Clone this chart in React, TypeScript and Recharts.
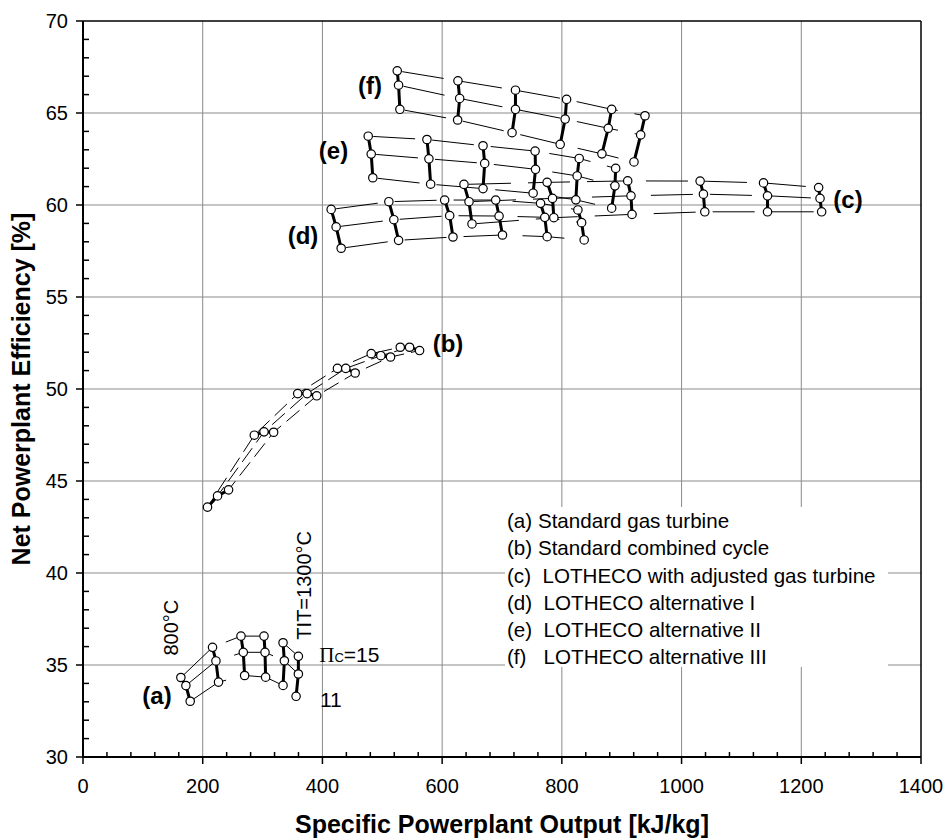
import React from 'react';
import { ScatterChart, Scatter, XAxis, YAxis, CartesianGrid, ReferenceLine } from 'recharts';

type Pt = [number, number];

// each inner array is one turbine inlet temperature (thick line), points ordered by pressure ratio
const SERIES_A: Pt[][] = [
  [[163.5, 34.32], [171.9, 33.88], [179.1, 33.03]],
  [[216.4, 35.96], [222.1, 35.22], [226.4, 34.07]],
  [[263.9, 36.57], [267.8, 35.69], [270.0, 34.43]],
  [[302.4, 36.57], [304.1, 35.69], [305.1, 34.34]],
  [[334.2, 36.21], [336.4, 35.23], [334.2, 33.89]],
  [[359.8, 35.47], [359.8, 34.51], [356.0, 33.30]],
];

const SERIES_B: Pt[][] = [
  [[208.0, 43.58], [224.8, 44.19], [243.2, 44.52]],
  [[286.2, 47.49], [302.4, 47.67], [318.5, 47.65]],
  [[358.7, 49.75], [374.4, 49.75], [390.5, 49.63]],
  [[425.1, 51.12], [439.0, 51.12], [454.7, 50.87]],
  [[481.5, 51.92], [497.6, 51.81], [513.8, 51.74]],
  [[530.0, 52.27], [545.6, 52.27], [562.3, 52.09]],
];

const SERIES_C: Pt[][] = [
  [[636.5, 61.12], [644.9, 60.18], [649.9, 58.97]],
  [[775.4, 61.23], [784.4, 60.36], [786.6, 59.31]],
  [[910.0, 61.31], [915.5, 60.50], [917.2, 59.49]],
  [[1031.0, 61.30], [1036.5, 60.59], [1038.8, 59.63]],
  [[1136.9, 61.20], [1143.6, 60.50], [1143.6, 59.63]],
  [[1229.0, 60.95], [1231.3, 60.36], [1234.0, 59.63]],
];

const SERIES_D: Pt[][] = [
  [[414.6, 59.76], [422.9, 58.81], [431.3, 57.65]],
  [[511.0, 60.18], [519.3, 59.20], [527.2, 58.08]],
  [[604.2, 60.27], [612.6, 59.42], [618.1, 58.26]],
  [[689.5, 60.27], [695.1, 59.40], [700.8, 58.37]],
  [[764.4, 60.09], [771.5, 59.33], [775.4, 58.28]],
  [[826.8, 59.73], [833.0, 59.04], [837.3, 58.10]],
];

const SERIES_E: Pt[][] = [
  [[476.5, 63.74], [481.5, 62.77], [484.2, 61.48]],
  [[574.6, 63.56], [577.9, 62.51], [580.8, 61.13]],
  [[668.3, 63.22], [671.1, 62.26], [668.3, 60.89]],
  [[755.3, 62.93], [756.0, 61.94], [752.0, 60.64]],
  [[829.0, 62.53], [825.6, 61.58], [823.4, 60.28]],
  [[889.9, 61.99], [888.7, 61.04], [883.2, 59.83]],
];

const SERIES_F: Pt[][] = [
  [[525.0, 67.29], [527.2, 66.51], [529.4, 65.20]],
  [[626.4, 66.75], [629.3, 65.79], [625.9, 64.62]],
  [[722.5, 66.24], [722.5, 65.20], [716.8, 63.93]],
  [[807.9, 65.74], [805.5, 64.67], [797.2, 63.30]],
  [[883.2, 65.20], [877.5, 64.17], [866.9, 62.78]],
  [[938.9, 64.85], [931.7, 63.81], [920.5, 62.34]],
];

const FAMILY_KEYS = ['a', 'b', 'c', 'd', 'e', 'f'];
const FAMILY_COLS = [SERIES_A, SERIES_B, SERIES_C, SERIES_D, SERIES_E, SERIES_F];

const LEGEND_LINES = [
  '(a) Standard gas turbine',
  '(b) Standard combined cycle',
  '(c)  LOTHECO with adjusted gas turbine',
  '(d)  LOTHECO alternative I',
  '(e)  LOTHECO alternative II',
  '(f)   LOTHECO alternative III',
];

// curve tags (a)..(f)
const TAG_TEXT = ['(a)', '(b)', '(c)', '(d)', '(e)', '(f)'];
const TAG_X = [123.6, 609.8, 1278, 367.5, 418.5, 479.5];
const TAG_Y = [33.35, 52.48, 60.31, 58.35, 62.97, 66.5];

const X_MAJOR = [0, 200, 400, 600, 800, 1000, 1200, 1400];
const Y_MAJOR = [30, 35, 40, 45, 50, 55, 60, 65, 70];
const X_TICKS = Array.from({ length: 36 }, (_, i) => i * 40);
const Y_TICKS = Array.from({ length: 41 }, (_, i) => 30 + i);

const FONT = "'Liberation Sans', Arial, sans-serif";
const ROW_DASH: Record<string, string> = {
  a: '40 16',
  b: '17 7',
  c: '42 17',
  d: '42 17',
  e: '42 17',
  f: '42 17',
};

const toPts = (pts: Pt[]) => pts.map(([x, y]) => ({ x, y }));
const rowsOf = (cols: Pt[][]) => [0, 1, 2].map((i) => toPts(cols.map((c) => c[i])));

const NoShape = () => <g />;
const OpenCircle = (p: any) => (
  <circle cx={p.cx} cy={p.cy} r={4.2} fill="#fff" stroke="#000" strokeWidth={1.2} />
);

const XTick = ({ x, y, payload }: any) => {
  const v = payload.value;
  if (!X_MAJOR.includes(v)) {
    return <line x1={x} y1={y} x2={x} y2={y - 5} stroke="#000" strokeWidth={1.5} />;
  }
  return (
    <g>
      <line x1={x} y1={y} x2={x} y2={y + 7} stroke="#000" strokeWidth={1.5} />
      <text x={x} y={y + 36} textAnchor="middle" fontFamily={FONT} fontSize={20} fill="#000">
        {v}
      </text>
    </g>
  );
};

const YTick = ({ x, y, payload }: any) => {
  const v = payload.value;
  if (!Y_MAJOR.includes(v)) {
    return <line x1={x} y1={y} x2={x + 6} y2={y} stroke="#000" strokeWidth={1.5} />;
  }
  return (
    <g>
      <line x1={x - 7} y1={y} x2={x} y2={y} stroke="#000" strokeWidth={1.5} />
      <text x={x - 15} y={y} dy="0.36em" textAnchor="end" fontFamily={FONT} fontSize={20} fill="#000">
        {v}
      </text>
    </g>
  );
};

const XTitle = (props: any) => {
  const vb = props.viewBox || { x: 83, y: 757, width: 838, height: 60 };
  return (
    <text x={vb.x + vb.width / 2} y={vb.y + 76} textAnchor="middle" fontFamily={FONT} fontWeight="bold" fontSize={25} fill="#000">
      Specific Powerplant Output [kJ/kg]
    </text>
  );
};

const YTitle = (props: any) => {
  const vb = props.viewBox || { x: 23, y: 21, width: 60, height: 736 };
  const cx = vb.x - 2;
  const cy = vb.y + vb.height / 2;
  return (
    <text
      x={cx}
      y={cy}
      transform={`rotate(-90, ${cx}, ${cy})`}
      textAnchor="middle"
      dominantBaseline="central"
      fontFamily={FONT}
      fontWeight="bold"
      fontSize={25}
      fill="#000"
    >
      Net Powerplant Efficiency [%]
    </text>
  );
};

const tagShape = (text: string) => (p: any) => (
  <text x={p.cx} y={p.cy} textAnchor="middle" dominantBaseline="central" fontFamily={FONT} fontWeight="bold" fontSize={24} fill="#000">
    {text}
  </text>
);

const rotatedShape = (text: string) => (p: any) => (
  <text
    x={p.cx}
    y={p.cy}
    transform={`rotate(-90, ${p.cx}, ${p.cy})`}
    textAnchor="middle"
    dominantBaseline="central"
    fontFamily={FONT}
    fontSize={20}
    fill="#000"
  >
    {text}
  </text>
);

const PiShape = (p: any) => (
  <text x={p.cx} y={p.cy} fontFamily={FONT} fontSize={21} fill="#000">
    <tspan fontFamily="'Liberation Serif', 'Times New Roman', serif" fontSize={21}>Π</tspan>
    <tspan fontSize={13}>C</tspan>
    <tspan>=15</tspan>
  </text>
);

const ElevenShape = (p: any) => (
  <text x={p.cx} y={p.cy} fontFamily={FONT} fontSize={21} fill="#000">
    11
  </text>
);

export default function App() {
  return (
    <div style={{ position: 'relative', width: 946, height: 840, background: '#fff' }}>
      <style>{'body{margin:0;}'}</style>
      <ScatterChart width={946} height={840} margin={{ top: 21, right: 25, bottom: 23, left: 23 }}>
        <CartesianGrid stroke="#8a8a8a" strokeWidth={1} horizontalValues={[35, 40, 45, 50, 55, 60, 65]} verticalValues={[200, 400, 600, 800, 1000, 1200]} />
        <XAxis
          type="number"
          dataKey="x"
          domain={[0, 1400]}
          ticks={X_TICKS}
          interval={0}
          tickSize={0}
          tickMargin={0}
          tickLine={false}
          tick={<XTick />}
          axisLine={{ stroke: '#000', strokeWidth: 2 }}
          height={60}
          allowDataOverflow
          label={XTitle}
        />
        <YAxis
          type="number"
          dataKey="y"
          domain={[30, 70]}
          ticks={Y_TICKS}
          interval={0}
          tickSize={0}
          tickMargin={0}
          tickLine={false}
          tick={<YTick />}
          axisLine={{ stroke: '#000', strokeWidth: 2 }}
          width={60}
          allowDataOverflow
          label={YTitle}
        />
        <ReferenceLine y={70} stroke="#000" strokeWidth={1.5} />
        <ReferenceLine x={1400} stroke="#000" strokeWidth={1.5} />

        {FAMILY_COLS.map((cols, f) =>
          rowsOf(cols).map((row, r) => (
            <Scatter
              key={`row-${f}-${r}`}
              data={row}
              isAnimationActive={false}
              shape={NoShape}
              line={{ stroke: '#000', strokeWidth: 1, strokeDasharray: ROW_DASH[FAMILY_KEYS[f]], strokeDashoffset: 54, fill: 'none' }}
            />
          ))
        )}

        {FAMILY_COLS.map((cols, f) =>
          cols.map((col, c) => (
            <Scatter
              key={`col-${f}-${c}`}
              data={toPts(col)}
              isAnimationActive={false}
              shape={NoShape}
              line={{ stroke: '#000', strokeWidth: 3, fill: 'none' }}
            />
          ))
        )}

        {FAMILY_COLS.map((cols, f) => (
          <Scatter key={`pts-${f}`} data={toPts(cols.flat())} isAnimationActive={false} shape={OpenCircle} />
        ))}

        {TAG_TEXT.map((t, i) => (
          <Scatter key={`tag-${i}`} data={[{ x: TAG_X[i], y: TAG_Y[i] }]} isAnimationActive={false} shape={tagShape(t)} />
        ))}
        <Scatter data={[{ x: 147.0, y: 37.03 }]} isAnimationActive={false} shape={rotatedShape('800°C')} />
        <Scatter data={[{ x: 370.0, y: 39.33 }]} isAnimationActive={false} shape={rotatedShape('TIT=1300°C')} />
        <Scatter data={[{ x: 394.7, y: 35.16 }]} isAnimationActive={false} shape={PiShape} />
        <Scatter data={[{ x: 395.9, y: 32.72 }]} isAnimationActive={false} shape={ElevenShape} />
      </ScatterChart>

      <div
        style={{
          position: 'absolute',
          left: 505,
          top: 507,
          width: 383,
          height: 160,
          background: '#fff',
          fontFamily: FONT,
          fontSize: 20.6,
          lineHeight: '27.3px',
          color: '#000',
          whiteSpace: 'pre',
          paddingLeft: 2,
          boxSizing: 'border-box',
        }}
      >
        {LEGEND_LINES.map((t) => (
          <div key={t}>{t}</div>
        ))}
      </div>
    </div>
  );
}
